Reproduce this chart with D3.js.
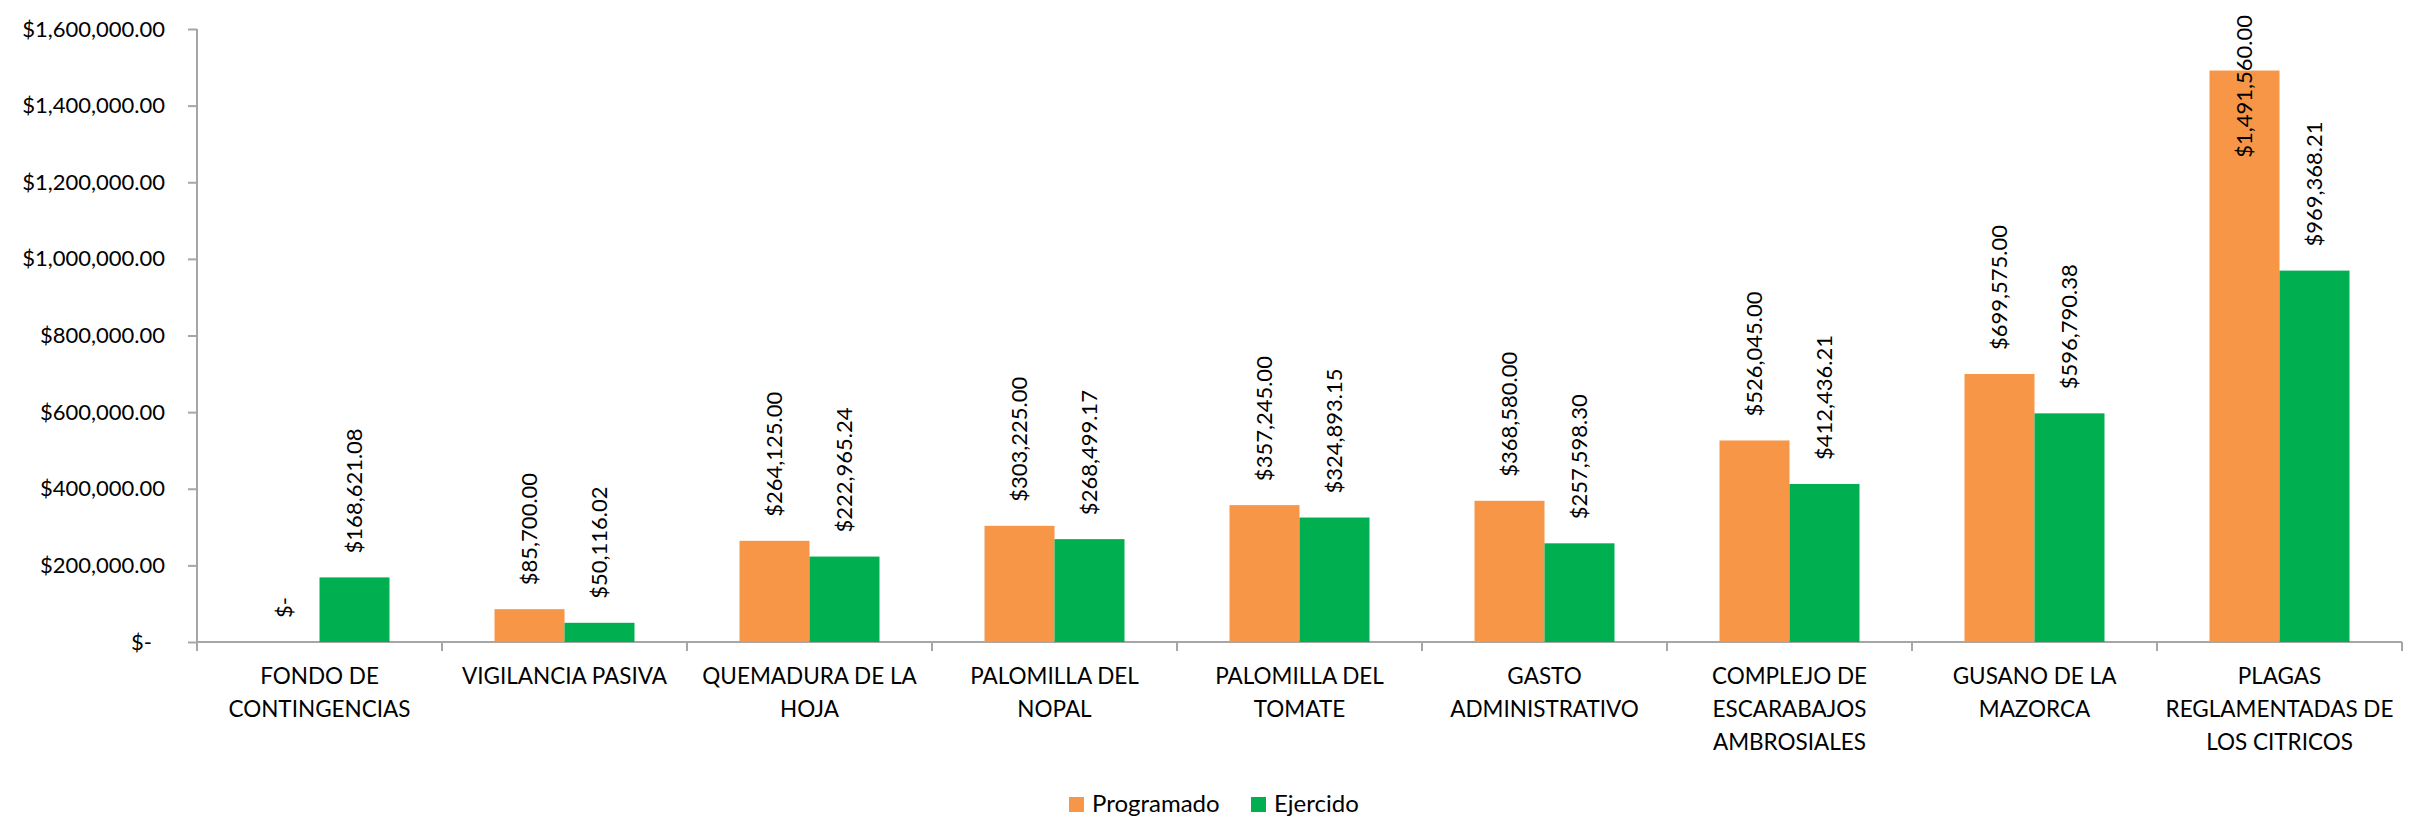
<!DOCTYPE html>
<html>
<head>
<meta charset="utf-8">
<script src="https://cdn.jsdelivr.net/npm/d3@7"></script>
<style>
  body { margin: 0; background: #fff; }
  text { font-family: Lato, "Open Sans", sans-serif; fill: #000; }
</style>
</head>
<body>
<script>
// chart data
var categories = ["FONDO DE CONTINGENCIAS", "VIGILANCIA PASIVA", "QUEMADURA DE LA HOJA", "PALOMILLA DEL NOPAL",
  "PALOMILLA DEL TOMATE", "GASTO ADMINISTRATIVO", "COMPLEJO DE ESCARABAJOS AMBROSIALES",
  "GUSANO DE LA MAZORCA", "PLAGAS REGLAMENTADAS DE LOS CITRICOS"];
var categoryLines = [
  ["FONDO DE", "CONTINGENCIAS"],
  ["VIGILANCIA PASIVA"],
  ["QUEMADURA DE LA", "HOJA"],
  ["PALOMILLA DEL", "NOPAL"],
  ["PALOMILLA DEL", "TOMATE"],
  ["GASTO", "ADMINISTRATIVO"],
  ["COMPLEJO DE", "ESCARABAJOS", "AMBROSIALES"],
  ["GUSANO DE LA", "MAZORCA"],
  ["PLAGAS", "REGLAMENTADAS DE", "LOS CITRICOS"]
];
var seriesNames = ["Programado", "Ejercido"];
var programado = [0, 85700.00, 264125.00, 303225.00, 357245.00, 368580.00, 526045.00, 699575.00, 1491560.00];
var ejercido = [168621.08, 50116.02, 222965.24, 268499.17, 324893.15, 257598.30, 412436.21, 596790.38, 969368.21];
var yTicks = [0, 200000, 400000, 600000, 800000, 1000000, 1200000, 1400000, 1600000];
var colors = ["#F79646", "#00B050"];

var width = 2424, height = 816;
var margin = {top: 29, right: 22, bottom: 174, left: 197};
var plotW = width - margin.left - margin.right;
var plotH = height - margin.top - margin.bottom;

var svg = d3.select("body").append("svg")
    .attr("width", width)
    .attr("height", height)
    .append("g")
    .attr("transform", "translate(" + margin.left + "," + margin.top + ")");

var xScale = d3.scaleBand().domain(categories).range([0, plotW]).paddingInner(0).paddingOuter(0);
var xSub = d3.scaleBand().domain(seriesNames).range([xScale.bandwidth() * 0.2143, xScale.bandwidth() * 0.7857]);
var yScale = d3.scaleLinear().domain([0, 1600000]).range([plotH, 0]);

var money = d3.format("$,.2f");
function fmt(v) { return v === 0 ? "$-" : money(v); }

// y axis
var yAxis = d3.axisLeft(yScale).tickValues(yTicks).tickSize(9).tickPadding(23).tickFormat(fmt);
var gy = svg.append("g").attr("class", "AxisY").call(yAxis);
gy.selectAll("path, line").attr("stroke", "#A6A6A6").attr("stroke-width", 2);
gy.select(".domain").attr("d", "M0,0V" + plotH);
gy.selectAll("text").style("font-size", "22px");
gy.selectAll(".tick").filter(function(d) { return d === 0; }).select("text").attr("dx", "-13");

// x axis
var gx = svg.append("g").attr("transform", "translate(0," + plotH + ")");
gx.append("line").attr("x1", 0).attr("x2", plotW).attr("stroke", "#A6A6A6").attr("stroke-width", 2);
var bounds = categories.map(function(c) { return xScale(c); }).concat([plotW]);
gx.selectAll(".xtick").data(bounds).enter().append("line")
    .attr("x1", function(d) { return d; }).attr("x2", function(d) { return d; })
    .attr("y1", 0).attr("y2", 9)
    .attr("stroke", "#A6A6A6").attr("stroke-width", 2);

var catLabels = gx.selectAll(".catlabel").data(categories).enter().append("text")
    .attr("text-anchor", "middle")
    .attr("transform", function(c) { return "translate(" + (xScale(c) + xScale.bandwidth() / 2) + ",42)"; })
    .style("font-size", "22.5px");
catLabels.each(function(c, i) {
  var t = d3.select(this);
  categoryLines[i].forEach(function(line, j) {
    t.append("tspan").attr("x", 0).attr("y", j * 33).text(line);
  });
});

// bars
var series = [programado, ejercido];
series.forEach(function(vals, s) {
  var g = svg.append("g");
  g.selectAll("rect").data(vals).enter().append("rect")
    .attr("x", function(d, i) { return xScale(categories[i]) + xSub(seriesNames[s]); })
    .attr("y", function(d) { return yScale(d); })
    .attr("width", xSub.bandwidth())
    .attr("height", function(d) { return plotH - yScale(d); })
    .attr("fill", colors[s]);

  g.selectAll("text").data(vals).enter().append("text")
    .attr("transform", function(d, i) {
      var cx = xScale(categories[i]) + xSub(seriesNames[s]) + xSub.bandwidth() / 2;
      return "translate(" + cx + "," + (yScale(d) - 24) + ") rotate(-90)";
    })
    .attr("dy", "0.36em")
    .style("font-size", "22px")
    .text(function(d) { return fmt(d); })
    .each(function(d, i) {
      // keep label inside chart area like Excel does
      var len = this.getComputedTextLength();
      var top = margin.top + yScale(d) - 24 - len;
      if (top < 15) {
        var cx = xScale(categories[i]) + xSub(seriesNames[s]) + xSub.bandwidth() / 2;
        d3.select(this).attr("transform", "translate(" + cx + "," + (15 - margin.top + len) + ") rotate(-90)");
      }
    });
});

// legend
var legend = d3.select("svg").append("g").attr("transform", "translate(1069,797)");
var legX = [0, 182];
seriesNames.forEach(function(name, i) {
  legend.append("rect").attr("x", legX[i]).attr("y", 0).attr("width", 15).attr("height", 15).attr("fill", colors[i]);
  legend.append("text").attr("x", legX[i] + 23).attr("y", 15).style("font-size", "24px").text(name);
});
</script>
</body>
</html>
